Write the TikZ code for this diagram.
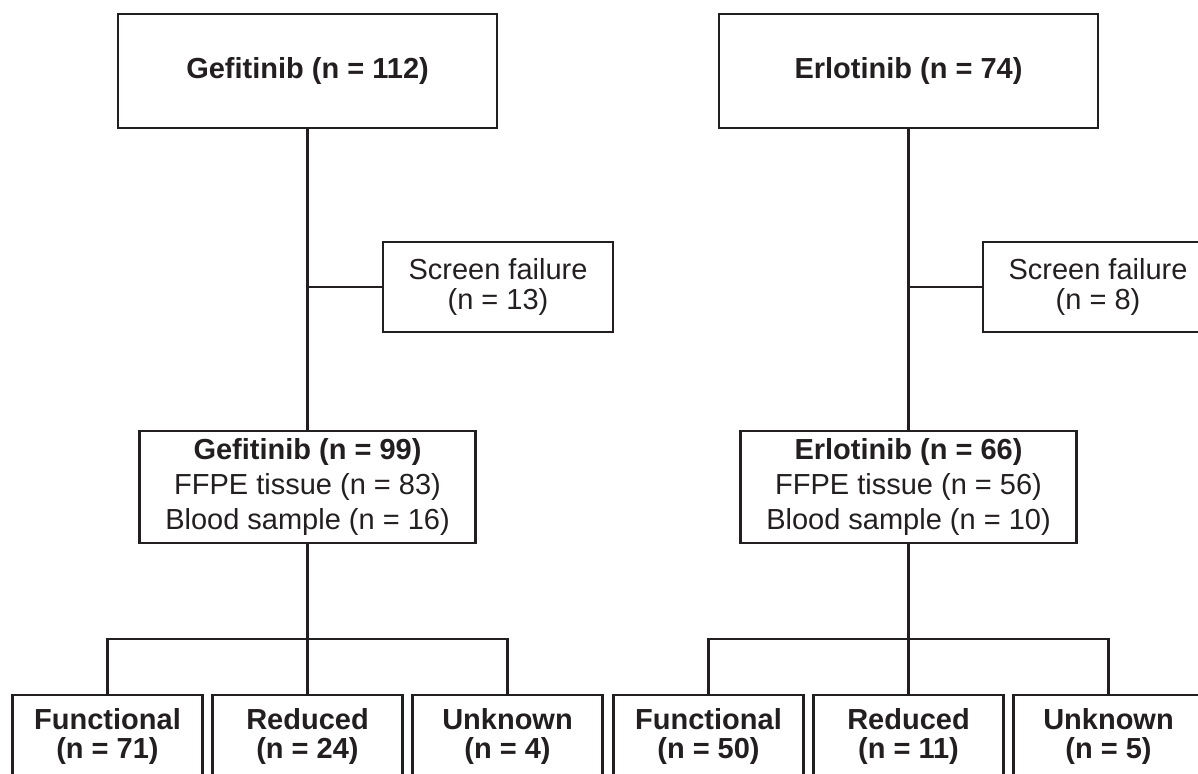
\documentclass[tikz,border=0pt]{standalone}
\usepackage{fontspec}
\setmainfont{Liberation Sans}
\usetikzlibrary{positioning}
\definecolor{linegray}{HTML}{231F20}

\begin{document}
\begin{tikzpicture}[line width=1.5pt, color=linegray,
    box/.style={draw, outer sep=0pt, inner sep=0pt, align=center},
    topbox/.style={box,
        minimum width=7.58cm,
        minimum height=2.28cm,
        font=\fontsize{16.5}{20}\selectfont\bfseries},
    failbox/.style={box,
        minimum width=4.6cm,
        minimum height=1.8cm,
        font=\fontsize{16.5}{17.6}\selectfont},
    samplebox/.style={box,
        minimum width=6.72cm,
        minimum height=2.24cm,
        font=\fontsize{16.5}{19.9}\selectfont},
    genobox/.style={box,
        minimum width=3.8cm,
        minimum height=1.66cm,
        font=\fontsize{16.5}{16.6}\selectfont\bfseries}
]
    \useasboundingbox (0,0) rectangle (23.96,15.46);
    \clip (0,0) rectangle (23.96,15.46);

    \node [topbox] (gefTop) at (6.15,14.04) {Gefitinib (n = 112)};
    \node [topbox, right=4.44 of gefTop] (erlTop) {Erlotinib (n = 74)};

    \node [samplebox, below=6.06 of gefTop] (gefSample) {
        \textbf{Gefitinib (n = 99)}\\
        FFPE tissue (n = 83)\\
        Blood sample (n = 16)
    };
    \node [samplebox, below=6.06 of erlTop] (erlSample) {
        \textbf{Erlotinib (n = 66)}\\
        FFPE tissue (n = 56)\\
        Blood sample (n = 10)
    };

    % screen failures
    \coordinate (gefJoin) at (gefTop |- 0,9.72);
    \coordinate (erlJoin) at (erlTop |- 0,9.72);
    \node [failbox, right=1.51 of gefJoin] (gefFail) {Screen failure\\(n = 13)};
    \node [failbox, right=1.49 of erlJoin] (erlFail) {Screen failure\\(n = 8)};

    % genotype groups
    \node [genobox, below=3.04 of gefSample] (gefRed) {Reduced\\(n = 24)};
    \node [genobox, left=0.2 of gefRed] (gefFun) {Functional\\(n = 71)};
    \node [genobox, right=0.2 of gefRed] (gefUnk) {Unknown\\(n = 4)};
    \node [genobox, below=3.04 of erlSample] (erlRed) {Reduced\\(n = 11)};
    \node [genobox, left=0.2 of erlRed] (erlFun) {Functional\\(n = 50)};
    \node [genobox, right=0.2 of erlRed] (erlUnk) {Unknown\\(n = 5)};

    \coordinate (gefFork) at (gefRed |- 0,2.68);
    \coordinate (erlFork) at (erlRed |- 0,2.68);

    % connectors
    \draw (gefTop) -- (gefSample);
    \draw (erlTop) -- (erlSample);
    \draw (gefJoin) -- (gefFail);
    \draw (erlJoin) -- (erlFail);
    \draw (gefSample) -- (gefRed);
    \draw (erlSample) -- (erlRed);
    \draw (gefFun) |- (gefFork) -| (gefUnk);
    \draw (erlFun) |- (erlFork) -| (erlUnk);
\end{tikzpicture}
\end{document}
